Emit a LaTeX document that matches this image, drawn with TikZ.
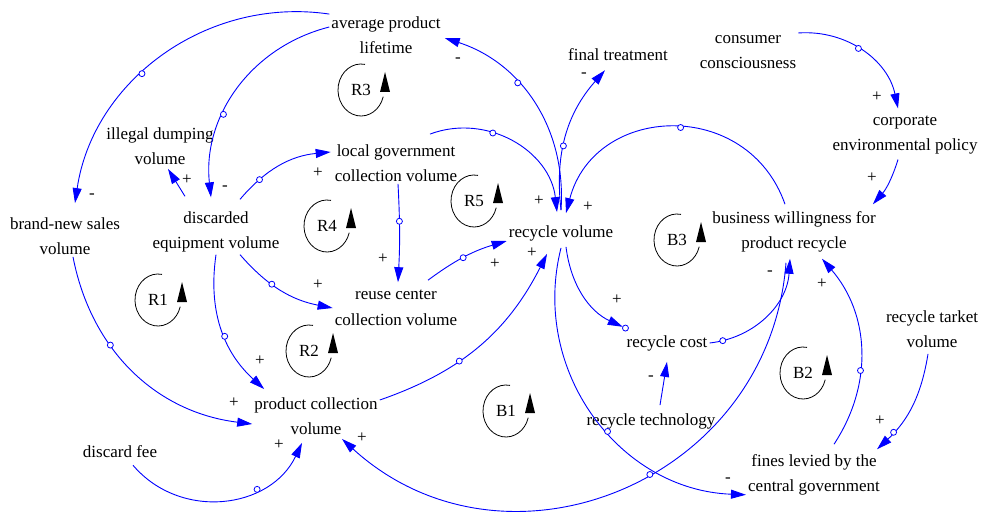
\documentclass[tikz,border=0pt]{standalone}
\usepackage{fontspec}
\setmainfont{Liberation Serif}
\usetikzlibrary{arrows.meta}

\begin{document}
\begin{tikzpicture}[x=1pt, y=1pt,
  var/.style={align=center, inner sep=2pt, font=\fontsize{17}{25.5}\selectfont},
  pol/.style={inner sep=0pt, font=\fontsize{17}{20}\selectfont},
  link/.style={draw=blue, line width=0.9pt, -{Triangle[length=15pt, width=9pt]}},
  hook/.style={draw=blue, fill=white, circle, inner sep=0pt, minimum size=6pt, line width=0.8pt},
  looptag/.style={inner sep=0pt, font=\fontsize{17}{20}\selectfont},
  loopline/.style={draw=black, line width=0.8pt}
]
  \useasboundingbox (0,-516) rectangle (985,0);
  \fill[white] (0,-516) rectangle (985,0);

  % variables
  \node[var] (avglife) at (386,-35) {average product\\lifetime};
  \node[var] (brandnew) at (65,-236) {brand-new sales\\volume};
  \node[var] (illegal) at (160,-146) {illegal dumping\\volume};
  \node[var] (discarded) at (216,-232) {discarded\\equipment volume};
  \node[var] (localgov) at (396,-163) {local government\\collection volume};
  \node[var] (reuse) at (396,-308) {reuse center\\collection volume};
  \node[var] (prodcoll) at (316,-416) {product collection\\volume};
  \node[var] (discardfee) at (120,-452) {discard fee};
  \node[var] (recvol) at (561,-233) {recycle volume};
  \node[var] (final) at (618,-55) {final treatment};
  \node[var] (consumer) at (748,-52) {consumer\\consciousness};
  \node[var] (corporate) at (905,-135) {corporate\\environmental policy};
  \node[var] (business) at (794,-232) {business willingness for\\product recycle};
  \node[var] (reccost) at (667,-343) {recycle cost};
  \node[var] (rectech) at (651,-421) {recycle technology};
  \node[var] (target) at (932,-329) {recycle tarket\\volume};
  \node[var] (fines) at (814,-475) {fines levied by the\\central government};

  % causal links
  \draw[link] (avglife.north west) to[bend right=45] node[hook, pos=.58] (h1) {} ([xshift=10pt, yshift=12pt]brandnew.north);
  \draw[link] ([yshift=8pt]avglife.west) to[bend right=41] node[hook, pos=.63] (h2) {} ([xshift=-5pt, yshift=12pt]discarded.north);
  \draw[link] ([yshift=13pt]recvol.north) to[bend right=38] node[hook, pos=.62] (h3) {} ([xshift=2pt, yshift=-3pt]avglife.east);
  \draw[link] ([xshift=-31pt, yshift=13pt]discarded.north) -- ([xshift=8pt, yshift=-2pt]illegal.south);
  \draw[link] ([xshift=24pt, yshift=10pt]discarded.north) to[bend left=22] node[hook, pos=.25] (h5) {} ([xshift=-2pt, yshift=11pt]localgov.west);
  \draw[link] ([xshift=2pt]localgov.south) to[bend left=3] node[hook, pos=.37] (h6) {} ([xshift=2pt, yshift=6pt]reuse.north);
  \draw[link] ([xshift=24pt]discarded.south) to[bend right=19] node[hook, pos=.39] (h7) {} (reuse.west);
  \draw[link] (discarded.south) to[bend right=28] node[hook, pos=.56] (h8) {} ([xshift=12pt, yshift=6pt]prodcoll.north west);
  \draw[link] ([xshift=8pt]brandnew.south) to[bend right=36] node[hook, pos=.36] (h9) {} ([yshift=-8pt]prodcoll.west);
  \draw[link] ([xshift=13pt, yshift=-5pt]discardfee.south) to[bend right=57, looseness=1.1] node[hook, pos=.68] (h10) {} ([xshift=-14pt, yshift=-6pt]prodcoll.south);
  \draw[link] ([xshift=32pt, yshift=8pt]reuse.north) to[bend left=10] node[hook, pos=.47] (h11) {} ([yshift=-8pt]recvol.west);
  \draw[link] ([xshift=34pt, yshift=8pt]localgov.north) to[bend left=52, looseness=1.05] node[hook, pos=.37] (h12) {} ([xshift=-4pt, yshift=11pt]recvol.north);
  \draw[link] ([yshift=16pt]prodcoll.east) to[bend right=22] node[hook, pos=.38] (h13) {} ([xshift=-14pt, yshift=-11pt]recvol.south);
  \draw[link] ([yshift=13pt]recvol.north) to[bend left=24] node[hook, pos=.42] (h14) {} ([xshift=-13pt, yshift=-7pt]final.south);
  \draw[link] ([xshift=-9pt, yshift=5pt]business.north) to[bend right=73, looseness=1.32] node[hook, pos=.47] (h15) {} ([xshift=5pt, yshift=10pt]recvol.north);
  \draw[link, shorten >=3pt] ([xshift=5pt, yshift=-4pt]recvol.south) to[bend right=29] node[hook, pos=1] (h16) {} ([xshift=1pt, yshift=5pt]reccost.north west);
  \draw[link] ([yshift=-5pt]recvol.south) to[bend right=51, looseness=1.05] node[hook, pos=.56] (h17) {} ([yshift=3pt]fines.south west);
  \draw[link] ([xshift=-8pt, yshift=-8pt]business.south) to[bend left=64, looseness=1.18] node[hook, pos=.44] (h18) {} ([xshift=26pt, yshift=-2pt]prodcoll.south);
  \draw[link] (reccost.east) to[bend right=40] node[hook, pos=.1] (h19) {} ([xshift=-4pt, yshift=-4pt]business.south);
  \draw[link] ([xshift=9pt, yshift=6pt]rectech.north) -- ([yshift=-9pt]reccost.south);
  \draw[link] ([xshift=20pt, yshift=8pt]fines.north) to[bend right=37] node[hook, pos=.39] (h20) {} ([xshift=28pt, yshift=-4pt]business.south);
  \draw[link] ([xshift=-4pt, yshift=-4pt]target.south) to[bend left=19] node[hook, pos=.8] (h21) {} ([xshift=-5pt, yshift=3pt]fines.north east);
  \draw[link] (consumer.north east) to[bend left=41] node[hook, pos=.46] (h22) {} ([xshift=-7pt, yshift=5pt]corporate.north);
  \draw[link] ([xshift=-7pt, yshift=-3pt]corporate.south) to[bend left=12] ([xshift=-5pt, yshift=5pt]business.north east);

  % polarities
  \node[pol] (s1) at (92,-196) {-};
  \node[pol] (s2) at (225,-188) {-};
  \node[pol] (s3) at (458,-60) {-};
  \node[pol] (s4) at (187,-180) {+};
  \node[pol] (s5) at (318,-173) {+};
  \node[pol] (s6) at (383,-259) {+};
  \node[pol] (s7) at (318,-285) {+};
  \node[pol] (s8) at (260,-361) {+};
  \node[pol] (s9) at (234,-403) {+};
  \node[pol] (s10) at (279,-445) {+};
  \node[pol] (s11) at (495,-264) {+};
  \node[pol] (s12) at (539,-201) {+};
  \node[pol] (s13) at (532,-253) {+};
  \node[pol] (s14) at (584,-75) {-};
  \node[pol] (s15) at (588,-207) {+};
  \node[pol] (s16) at (617,-300) {+};
  \node[pol] (s17) at (728,-480) {-};
  \node[pol] (s18) at (362,-438) {+};
  \node[pol] (s19) at (770,-273) {-};
  \node[pol] (s20) at (651,-378) {-};
  \node[pol] (s21) at (822,-284) {+};
  \node[pol] (s22) at (880,-421) {+};
  \node[pol] (s23) at (877,-97) {+};
  \node[pol] (s24) at (872,-178) {+};

  % loop markers
  \foreach \lp/\lx/\ly in {R1/158/300, R2/309/351, R3/361/90, R4/327/226,
                           R5/474/201, B1/506/411, B2/803/373, B3/677/240} {
    \node[looptag] (\lp) at (\lx,-\ly) {\lp};
    \draw[loopline] (\lp.center) ++(80:23pt and 26pt)
      arc[start angle=80, end angle=345, x radius=23pt, y radius=26pt];
    \fill ([shift={(24pt,18pt)}]\lp.center) -- ([shift={(19pt,-2pt)}]\lp.center)
      -- ([shift={(29pt,-2pt)}]\lp.center) -- cycle;
  }
\end{tikzpicture}
\end{document}
